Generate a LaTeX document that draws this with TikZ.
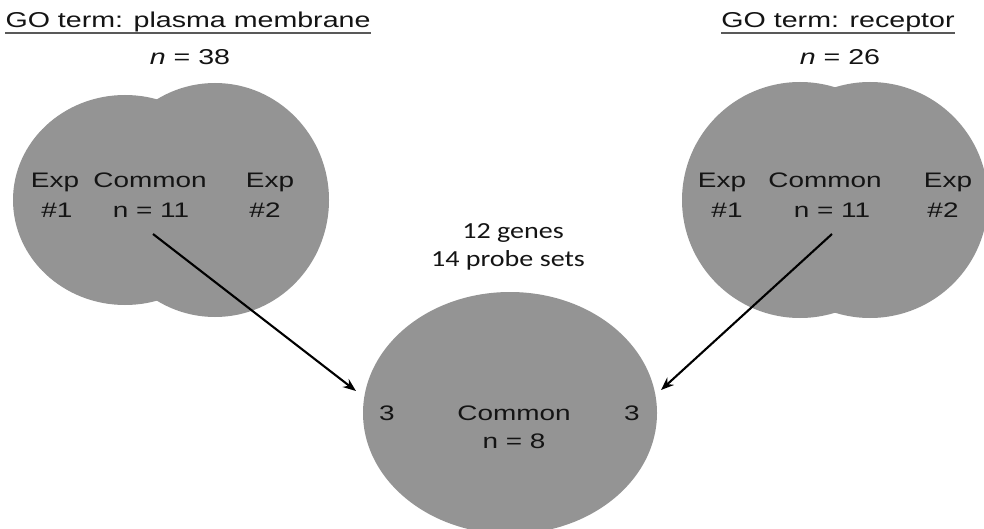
\documentclass[tikz,border=0pt]{standalone}
\usepackage{fontspec}
\usetikzlibrary{arrows.meta}
\newfontfamily\arialw{Liberation Sans}[FakeStretch=1.33]
\newfontfamily\calw{Carlito}[FakeStretch=1.22]
\definecolor{vennfill}{RGB}{148,148,148}
\definecolor{inktext}{RGB}{20,20,20}

\begin{document}
\begin{tikzpicture}[x=1pt,y=-1pt,
  heading/.style={font=\arialw\fontsize{21.5}{25}\selectfont, inner sep=0pt, anchor=base, text=inktext},
  lbl/.style={font=\arialw\fontsize{21}{25}\selectfont, inner sep=0pt, anchor=base, text=inktext},
  note/.style={font=\calw\fontsize{23}{27}\selectfont, inner sep=0pt, anchor=base, text=inktext},
  blob/.style={fill=vennfill},
  arr/.style={-{Stealth[length=13pt,width=10pt]}, line width=2.1pt, black},
  uline/.style={line width=1.3pt, black!65}]

\useasboundingbox (0,0) rectangle (984,529);
\clip (0,0) rectangle (984,529);

% plasma membrane Venn (two experiments)
\fill[blob] (125,200) ellipse [x radius=112pt, y radius=105pt];
\fill[blob] (215,200) ellipse [x radius=114pt, y radius=117pt];

% receptor Venn (two experiments)
\fill[blob] (800,200) ellipse [x radius=118pt, y radius=118pt];
\fill[blob] (870,200) ellipse [x radius=118pt, y radius=118pt];

% combined result
\fill[blob] (510,413) ellipse [x radius=147pt, y radius=121pt];

% headings
\node[heading] (tl) at (188,28) {GO term: plasma membrane};
\draw[uline] ([yshift=-5pt]tl.base west) -- ([yshift=-5pt]tl.base east);
\node[heading] (tln) at (190,65) {{\itshape n} = 38};

\node[heading] (tr) at (838,28) {GO term: receptor};
\draw[uline] ([yshift=-5pt]tr.base west) -- ([yshift=-5pt]tr.base east);
\node[heading] (trn) at (840,65) {{\itshape n} = 26};

% labels, plasma membrane
\node[lbl] (l1a) at (55,188) {Exp};
\node[lbl] (l1b) at (57,218) {\#1};
\node[lbl] (lca) at (150,188) {Common};
\node[lbl] (lcb) at (151,218) {n = 11};
\node[lbl] (l2a) at (270,188) {Exp};
\node[lbl] (l2b) at (265,218) {\#2};

% labels, receptor
\node[lbl] (r1a) at (722,188) {Exp};
\node[lbl] (r1b) at (727,218) {\#1};
\node[lbl] (rca) at (825,188) {Common};
\node[lbl] (rcb) at (832,218) {n = 11};
\node[lbl] (r2a) at (948,188) {Exp};
\node[lbl] (r2b) at (943,218) {\#2};

% labels, combined
\node[note] (g1) at (513,238) {12 genes};
\node[note] (g2) at (508,266) {14 probe sets};
\node[lbl] (b3l) at (387,420) {3};
\node[lbl] (bca) at (514,420) {Common};
\node[lbl] (b3r) at (632,420) {3};
\node[lbl] (bcb) at (514,448) {n = 8};

% connectors from each common set to the combined set
\coordinate (lt) at (153,234);
\coordinate (lh) at (356,391);
\coordinate (rt) at (832,234);
\coordinate (rh) at (661,390);
\draw[arr] (lt) -- (lh);
\draw[arr] (rt) -- (rh);
\end{tikzpicture}
\end{document}
